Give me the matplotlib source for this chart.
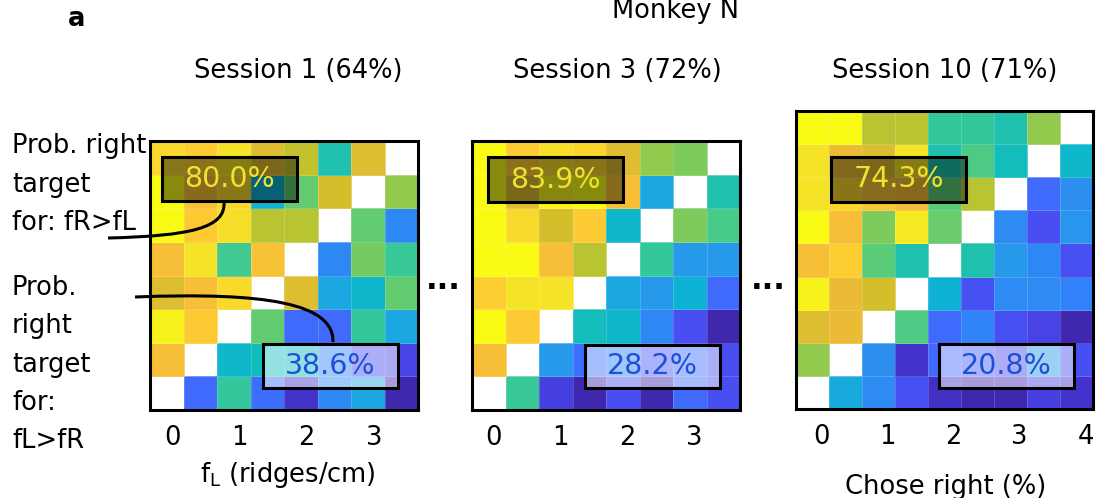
#!/usr/bin/env python
import numpy as np
import matplotlib
matplotlib.use('Agg')
import matplotlib.pyplot as plt
from matplotlib.colors import LinearSegmentedColormap
from matplotlib.patches import Rectangle, PathPatch
from matplotlib.path import Path
from matplotlib.transforms import ScaledTranslation

"""
Choice matrices (prob. right, %) for monkey N, sessions 1, 3 and 10.
Rows run from the highest fR (top) down to fR = 0, columns are fL.
"""

nan = np.nan

titles = ['Session 1 (64%)', 'Session 3 (72%)', 'Session 10 (71%)']
freqs_short = [0, 0.5, 1, 1.5, 2, 2.5, 3, 3.5]
freqs_long = [0, 0.5, 1, 1.5, 2, 2.5, 3, 3.5, 4]
ticks_short = [0, 1, 2, 3]
ticks_long = [0, 1, 2, 3, 4]

session1 = [
  [91, 88, 93, 78, 74, 52, 78, nan],
  [100, 84, 91, 43, 63, 76, nan, 68],
  [100, 87, 92, 73, 73, nan, 63, 29],
  [83, 93, 58, 84, nan, 29, 65, 57],
  [78, 83, 91, nan, 78, 39, 46, 63],
  [97, 87, nan, 63, 21, 21, 56, 39],
  [83, nan, 46, 49, 48, 28, 13, 10],
  [nan, 21, 56, 22, 5, 29, 39, 1],
]
session3 = [
  [100, 87, 92, 90, 78, 68, 66, nan],
  [100, 78, 98, 100, 83, 39, nan, 52],
  [100, 91, 76, 87, 46, nan, 66, 59],
  [100, 100, 83, 73, nan, 56, 34, 34],
  [88, 93, 93, nan, 39, 34, 43, 21],
  [100, 87, nan, 49, 46, 29, 13, 1],
  [83, nan, 34, 22, 27, 16, 22, 13],
  [nan, 57, 9, 1, 13, 1, 21, 13],
]
session10 = [
  [100, 100, 73, 73, 56, 56, 52, 68, nan],
  [93, 80, 78, 93, 52, 60, 49, nan, 46],
  [93, 90, 85, 82, 62, 73, nan, 21, 31],
  [100, 83, 66, 95, 64, nan, 30, 13, 33],
  [83, 88, 62, 52, nan, 52, 34, 29, 14],
  [97, 80, 76, nan, 43, 14, 30, 30, 27],
  [78, 80, nan, 60, 21, 28, 14, 10, 1],
  [68, nan, 31, 5, 20, 17, 12, 34, 13],
  [nan, 40, 30, 14, 4, 1, 1, 9, 5],
]

# % right for the two triangles, as printed in the boxes
pct_upper = ['80.0%', '83.9%', '74.3%']
pct_lower = ['38.6%', '28.2%', '20.8%']

# parula (R2017a), every 16th entry
parula_pts = [
  (0.2422, 0.1504, 0.6603), (0.2704, 0.2138, 0.8346), (0.2813, 0.2985, 0.9397),
  (0.2710, 0.3860, 0.9898), (0.2006, 0.4803, 0.9906), (0.1716, 0.5655, 0.9393),
  (0.1288, 0.6408, 0.8910), (0.0433, 0.7039, 0.8242), (0.0770, 0.7468, 0.7224),
  (0.2061, 0.7808, 0.6065), (0.3671, 0.8021, 0.4563), (0.5886, 0.7913, 0.2833),
  (0.7945, 0.7554, 0.1570), (0.9523, 0.7284, 0.2237), (0.9938, 0.7974, 0.1974),
  (0.9601, 0.8963, 0.1507), (0.9769, 0.9839, 0.0805),
]


def main():
  plt.rcParams['font.family'] = 'DejaVu Sans'
  plt.rcParams['font.size'] = 18.5
  parula = LinearSegmentedColormap.from_list('parula', parula_pts, N=256)

  W, H = 1098., 498.
  fig = plt.figure(figsize=(W/100, H/100), dpi=100)

  # panel boxes in pixels (left, top, right, bottom)
  boxes_px = [(150, 141, 418, 410), (472, 141, 740, 410), (796, 111, 1093, 409)]
  mats = [session1, session3, session10]
  freqs = [freqs_short, freqs_short, freqs_long]
  ticks = [ticks_short, ticks_short, ticks_long]
  tick_shift = [6, 5, 9]
  title_x = [298, 617, 945]
  # inset boxes in axes fraction: x0, y0, w, h
  upper_rect = [(0.045, 0.777, 0.504, 0.164), (0.06, 0.773, 0.504, 0.167), (0.118, 0.695, 0.4545, 0.151)]
  lower_rect = [(0.422, 0.082, 0.503, 0.163), (0.422, 0.082, 0.504, 0.16), (0.481, 0.07, 0.4545, 0.148)]

  for i in range(3):
    l, t, r, b = boxes_px[i]
    ax = fig.add_axes([l/W, 1 - b/H, (r - l)/W, (b - t)/H])
    f = np.array(freqs[i])
    step = f[1] - f[0]
    edges = np.append(f - step/2, f[-1] + step/2)
    m = np.array(mats[i], dtype=float)[::-1]
    ax.pcolormesh(edges, edges, np.ma.masked_invalid(m), cmap=parula, vmin=0, vmax=100,
                  edgecolors=(1, 1, 1, 0.18), linewidth=0.5)
    ax.set_xlim(edges[0], edges[-1])
    ax.set_ylim(edges[0], edges[-1])
    ax.set_xticks(ticks[i])
    ax.set_yticks([])
    ax.tick_params(axis='x', length=0, pad=11)
    off = ScaledTranslation(tick_shift[i]/100., 0, fig.dpi_scale_trans)
    for lab in ax.get_xticklabels():
      lab.set_transform(lab.get_transform() + off)
    for s in ax.spines.values():
      s.set_linewidth(2.2)

    x0, y0, w, h = upper_rect[i]
    ax.add_patch(Rectangle((x0, y0), w, h, transform=ax.transAxes,
                           facecolor=(0, 0, 0, 0.45), edgecolor='black', lw=2.2, zorder=3))
    ax.text(x0 + w/2, y0 + h/2, pct_upper[i], transform=ax.transAxes, ha='center',
            va='center', color='#f2e22c', fontsize=20.5, zorder=4)
    x0, y0, w, h = lower_rect[i]
    ax.add_patch(Rectangle((x0, y0), w, h, transform=ax.transAxes,
                           facecolor=(1, 1, 1, 0.55), edgecolor='black', lw=2.2, zorder=3))
    ax.text(x0 + w/2, y0 + h/2, pct_lower[i], transform=ax.transAxes, ha='center',
            va='center', color='#1f4fd6', fontsize=20.5, zorder=4)

    fig.text(title_x[i]/W, 1 - 78/H, titles[i], ha='center', va='baseline')

  # overlay in pixel coordinates for the annotation lines and loose text
  ov = fig.add_axes([0, 0, 1, 1], zorder=10)
  ov.set_xlim(0, W)
  ov.set_ylim(H, 0)
  ov.axis('off')
  curves = [
    [(108, 238), (190, 236), (226, 228), (224, 202)],
    [(135, 297), (265, 292), (334, 303), (333, 342)],
  ]
  for pts in curves:
    path = Path(pts, [Path.MOVETO, Path.CURVE4, Path.CURVE4, Path.CURVE4])
    ov.add_patch(PathPatch(path, facecolor='none', edgecolor='black', lw=2.2))

  lines_top = ['Prob. right', 'target', 'for: fR>fL']
  for k, s in enumerate(lines_top):
    ov.text(12, 153 + 38.5*k, s, ha='left', va='baseline')
  lines_bot = ['Prob.', 'right', 'target', 'for:', 'fL>fR']
  for k, s in enumerate(lines_bot):
    ov.text(12, 295 + 38.3*k, s, ha='left', va='baseline')

  ov.text(443, 289, '...', ha='center', va='baseline', fontweight='bold', fontsize=22)
  ov.text(768, 289, '...', ha='center', va='baseline', fontweight='bold', fontsize=22)
  ov.text(676, 18, 'Monkey N', ha='center', va='baseline')
  ov.text(68, 26, 'a', ha='left', va='baseline', fontweight='bold')
  ov.text(288, 482, r'f$_\mathregular{L}$ (ridges/cm)', ha='center', va='baseline')
  ov.text(946, 494, 'Chose right (%)', ha='center', va='baseline')

  fig.savefig('out.png', dpi=100)
  plt.close(fig)


if __name__ == '__main__':
  main()
